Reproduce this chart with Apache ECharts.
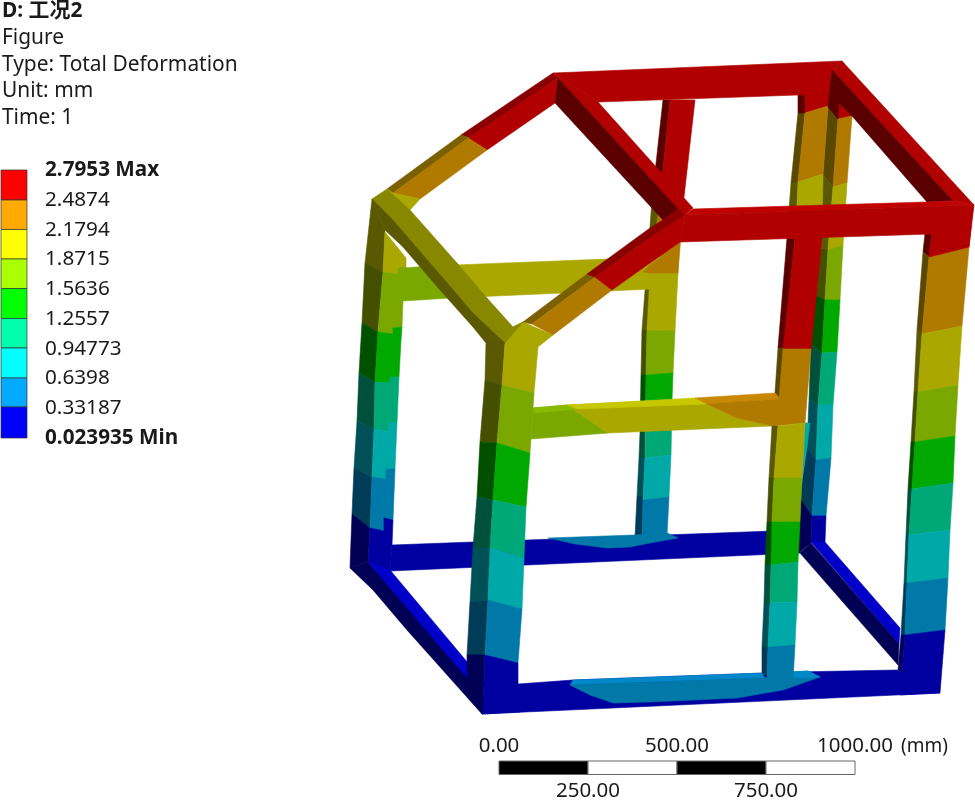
<!DOCTYPE html>
<html>
<head>
<meta charset="utf-8">
<script src="https://cdn.jsdelivr.net/npm/echarts@6/dist/echarts.min.js"></script>
<style>
html, body { margin: 0; padding: 0; background: #fff; }
#chart { width: 975px; height: 801px; }
</style>
</head>
<body>
<div id="chart"></div>
<script>
var chart = echarts.init(document.getElementById('chart'));

const headerLines = ['D: 工况2', 'Figure', 'Type: Total Deformation', 'Unit: mm', 'Time: 1'];
const legendLabels = ['2.7953 Max', '2.4874', '2.1794', '1.8715', '1.5636', '1.2557', '0.94773', '0.6398', '0.33187', '0.023935 Min'];
const legendColors = ['#ff0000', '#ffaa00', '#ffff00', '#aaff00', '#00ff00', '#00ffaa', '#00ffff', '#00aaff', '#0000ff'];
const legendEdges = [170, 200, 229.5, 259, 288.5, 318.5, 348, 378, 407, 438];
const scaleEdges = [0, 250, 500, 750, 1000];

// contour bands, red to blue, one list per face shade
const litFace = ['#b00000', '#b07a00', '#aaa800', '#7aa800', '#00a800', '#00a878', '#00a8a8', '#0078a8', '#0000a0'];
const darkFace = ['#5a0000', '#5a4800', '#5a5800', '#445000', '#005000', '#00503c', '#005058', '#003c58', '#000055'];
const brightFace = ['#c00000', '#c88800', '#c8c800', '#88bb00', '#00c000', '#00c088', '#00c0c0', '#0088c8', '#0000c8'];
const midFace = ['#8a0000', '#7a6000', '#888800', '#5f7800', '#007800', '#007850', '#007878', '#005878', '#000078'];
const shades = [litFace, darkFace, brightFace, midFace];

// each face: band, shade, then x,y pairs
const rearPost = [
	[0,1, 663,100, 670,100, 660,200, 652,200],
	[2,1, 652,200, 660,200, 647,330, 642,330],
	[3,1, 642,330, 647,330, 646,375, 641,375],
	[4,1, 641,375, 646,375, 645,433, 640,433],
	[5,1, 640,433, 645,433, 645,458, 639,458],
	[6,1, 639,458, 645,458, 643,497, 637,497],
	[7,1, 637,497, 643,497, 642,540, 635,537],
	[0,0, 670,100, 695,100, 684,197, 660,200],
	[1,0, 660,200, 684,197, 678,273, 650,273],
	[2,0, 650,273, 678,273, 675,331, 647,331],
	[3,0, 647,331, 675,331, 673,373, 646,375],
	[4,0, 646,375, 673,373, 672,400, 646,400],
	[5,0, 646,400, 672,400, 671,455, 645,458],
	[6,0, 645,458, 671,455, 669,497, 643,500],
	[7,0, 643,500, 669,497, 667,535, 642,540]
];

const rearBeam = [
	[8,0, 392,545, 800,530, 800,553, 390,571],
	[7,0, 548,538, 575,544, 607,548, 630,547, 650,543, 678,538, 667,533, 635,535]
];

const midBeam = [
	[3,0, 403,268, 430,266, 450,298, 403,301],
	[2,0, 430,266, 607,259, 677,256, 675,288, 450,298],
	[1,0, 643,272, 650,265, 678,245, 678,273, 650,273]
];

const cornerColumn = [
	[0,1, 832,70, 840,90, 838,119, 828,107],
	[1,1, 828,107, 838,119, 833,187, 823,175],
	[2,1, 823,175, 833,187, 828,250, 820,248],
	[3,1, 820,248, 828,250, 825,300, 815,295],
	[4,1, 815,295, 825,300, 822,353, 811,345],
	[5,1, 811,345, 822,353, 818,405, 809,400],
	[6,1, 809,400, 818,405, 816,460, 807,447],
	[7,1, 807,447, 816,460, 812,516, 800,498],
	[8,1, 800,498, 812,516, 811,543, 799,553],
	[0,0, 839,103, 853,116, 838,119],
	[1,0, 838,119, 852,116, 847,183, 833,187],
	[2,0, 833,187, 847,183, 843,245, 828,250],
	[3,0, 828,250, 843,245, 840,300, 825,300],
	[4,0, 825,300, 840,300, 837,352, 822,353],
	[5,0, 822,353, 837,352, 833,405, 818,405],
	[6,0, 818,405, 833,405, 831,458, 816,460],
	[7,0, 816,460, 831,458, 826,516, 812,516],
	[8,0, 812,516, 826,516, 825,542, 811,542],
	[6,0, 805,423, 810,423, 807,447, 802,478],
	[8,2, 811,542, 825,542, 900,628, 899,644],
	[8,1, 800,553, 811,543, 899,644, 898,665]
];

const frontBeam = [
	[8,0, 518,684, 573,680, 793,672, 897,670, 940,693, 482,714],
	[7,2, 573,680, 762,673, 765,678, 570,685],
	[7,0, 570,685, 590,695, 613,703, 650,702, 737,698, 783,690, 820,677, 808,671, 793,672, 765,678],
	[7,2, 793,672, 808,671, 820,677, 793,678]
];

const frontMid = [
	[1,1, 798,113, 805,113, 798,183, 791,183],
	[0,1, 798,95, 805,95, 805,113, 798,113],
	[2,1, 791,183, 798,183, 795,238, 787,238],
	[0,0, 805,95, 830,95, 828,106, 805,113],
	[1,0, 805,113, 828,106, 823,174, 798,182],
	[2,0, 798,182, 823,174, 822,237, 796,238],
	[0,1, 787,238, 795,238, 784,348, 778,348],
	[0,0, 795,238, 822,237, 811,350, 783,349],
	[1,1, 778,348, 784,348, 780,399, 775,393],
	[3,0, 533,408, 567,405, 608,433, 531,439],
	[2,0, 567,405, 695,399, 707,404, 737,418, 773,426, 608,433],
	[3,2, 533,408, 567,405, 578,409, 534,413],
	[2,2, 567,405, 695,398, 707,404, 578,409],
	[1,2, 695,398, 775,393, 780,399, 707,404],
	[1,0, 707,404, 779,399, 783,349, 811,349, 805,423, 773,426, 737,418],
	[2,1, 772,426, 778,426, 774,478, 769,478],
	[3,1, 769,478, 774,478, 772,522, 767,522],
	[4,1, 767,522, 772,522, 771,565, 765,565],
	[5,1, 765,565, 771,565, 770,603, 764,603],
	[6,1, 764,603, 770,603, 768,647, 762,647],
	[7,1, 762,647, 768,647, 767,677, 762,673],
	[2,0, 778,426, 805,423, 802,478, 774,478],
	[3,0, 774,478, 802,478, 800,522, 772,522],
	[4,0, 772,522, 800,522, 798,562, 771,565],
	[5,0, 771,565, 798,562, 797,602, 770,603],
	[6,0, 770,603, 797,602, 795,645, 768,647],
	[7,0, 768,647, 795,645, 793,680, 767,680]
];

const leftColumn = [
	[2,1, 372,199, 385,230, 383,272, 365,263],
	[3,1, 365,263, 383,272, 378,332, 362,323],
	[4,1, 362,323, 378,332, 375,382, 359,373],
	[5,1, 359,373, 375,382, 374,429, 357,421],
	[6,1, 357,421, 374,429, 372,477, 354,468],
	[7,1, 354,468, 372,477, 370,528, 352,514],
	[8,1, 352,514, 370,528, 368,562, 350,568],
	[2,0, 385,232, 406,258, 406,268, 398,268, 398,274, 383,272],
	[3,0, 383,272, 398,274, 398,268, 406,267, 403,300, 402,327, 393,328, 393,334, 378,332],
	[4,0, 378,332, 393,334, 393,328, 402,327, 401,340, 399,377, 390,377, 390,383, 375,382],
	[5,0, 375,382, 390,383, 390,377, 399,377, 397,423, 388,423, 388,432, 374,429],
	[6,0, 374,429, 388,432, 388,423, 397,423, 395,469, 386,469, 386,479, 372,477],
	[7,0, 372,477, 386,479, 386,469, 395,469, 393,520, 384,518, 384,531, 370,528],
	[8,0, 370,528, 384,531, 384,518, 393,520, 392,545, 390,571, 368,562],
	[8,1, 350,568, 373,590, 407,630, 482,714, 486,700, 468,670, 368,562],
	[8,2, 368,562, 390,570, 468,663, 467,678]
];

const centreColumn = [
	[2,1, 486,343, 505,343, 502,385, 485,380],
	[3,1, 485,380, 502,385, 497,443, 480,442],
	[4,1, 480,442, 497,443, 493,500, 477,497],
	[5,1, 477,497, 493,500, 490,548, 473,548],
	[6,1, 473,548, 490,548, 488,600, 470,602],
	[7,1, 470,602, 488,600, 485,655, 467,655],
	[8,1, 467,655, 485,655, 483,714, 482,714, 467,678],
	[2,0, 505,343, 513,327, 523,322, 553,335, 538,347, 534,393, 502,385],
	[3,0, 502,385, 534,393, 530,453, 497,443],
	[4,0, 497,443, 530,453, 526,507, 493,500],
	[5,0, 493,500, 526,507, 524,558, 490,548],
	[6,0, 490,548, 524,558, 522,609, 488,600],
	[7,0, 488,600, 522,609, 518,663, 485,655],
	[8,0, 485,655, 518,663, 518,684, 520,712, 483,714]
];

const rightColumn = [
	[0,1, 925,234, 932,234, 929,257, 923,252],
	[1,1, 923,252, 929,257, 922,334, 917,330],
	[2,1, 917,330, 922,334, 918,392, 914,392],
	[3,1, 914,392, 918,392, 915,442, 911,442],
	[4,1, 911,442, 915,442, 912,489, 908,489],
	[5,1, 908,489, 912,489, 909,535, 906,535],
	[6,1, 906,535, 909,535, 907,583, 904,583],
	[7,1, 904,583, 907,583, 905,635, 901,635],
	[8,1, 901,635, 905,635, 902,673, 898,670],
	[0,0, 932,234, 973,206, 969,247, 929,257],
	[1,0, 929,257, 969,247, 962,326, 922,334],
	[2,0, 922,334, 962,326, 958,385, 918,392],
	[3,0, 918,392, 958,385, 955,436, 915,442],
	[4,0, 915,442, 955,436, 953,483, 912,489],
	[5,0, 912,489, 953,483, 950,530, 909,535],
	[6,0, 909,535, 950,530, 948,578, 907,583],
	[7,0, 907,583, 948,578, 945,630, 905,635],
	[8,0, 905,635, 945,630, 940,693, 900,695]
];

const roof = [
	[0,0, 553,73, 842,61, 832,70, 830,95, 798,95, 598,102],
	[0,0, 842,61, 974,205, 953,201, 832,70],
	[0,1, 832,70, 953,201, 927,202, 852,116, 839,103, 838,119, 828,107],
	[0,3, 553,73, 558,78, 470,138, 461,135],
	[0,0, 558,78, 555,103, 487,150, 468,138],
	[1,3, 461,135, 470,138, 393,193, 387,189],
	[1,0, 468,138, 487,150, 420,199, 393,193],
	[2,0, 387,189, 393,193, 420,199, 410,210],
	[0,0, 553,73, 598,102, 693,208, 685,215, 678,209, 558,78],
	[0,1, 558,78, 678,209, 663,220, 555,103],
	[1,3, 523,322, 532,324, 595,277, 587,274],
	[1,0, 532,324, 553,335, 612,290, 595,277],
	[0,3, 587,274, 595,277, 650,238, 685,215, 678,209, 663,220, 650,228],
	[0,0, 595,277, 612,290, 650,263, 680,242, 685,215, 650,238],
	[0,2, 693,209, 927,202, 952,201, 974,205, 685,215],
	[0,0, 685,215, 974,205, 969,247, 929,257, 932,234, 680,242],
	[2,3, 372,199, 387,189, 410,210, 457,263, 487,298, 513,327, 523,322, 505,343, 473,313, 430,263, 393,220],
	[2,1, 372,199, 393,220, 430,263, 473,313, 505,343, 486,343, 473,327, 440,290, 403,247, 385,230]
];

// back to front
const faces = [].concat(rearPost, rearBeam, midBeam, cornerColumn, frontBeam, frontMid, leftColumn, centreColumn, rightColumn, roof);

const fontName = '"Noto Sans", "Noto Sans CJK SC", sans-serif';

var textItems = [];
headerLines.forEach(function (line, idx) {
	textItems.push([2, 11.5 + idx * 26.6, line, idx === 0, 20.9]);
});
legendLabels.forEach(function (label, idx) {
	textItems.push([45, 170.5 + idx * 29.7, label, idx === 0 || idx === legendLabels.length - 1, 20.7]);
});
textItems.push([901, 747, '(mm)', false, 19]);

var option = {
	animation: false,
	backgroundColor: '#ffffff',
	grid: [
		{ left: 0, top: 0, width: 975, height: 801 },
		{ left: 499, top: 761, width: 356, height: 16 }
	],
	xAxis: [
		{ type: 'value', gridIndex: 0, min: 0, max: 975, show: false },
		{
			type: 'value', gridIndex: 1, min: 0, max: 1000, interval: 500, position: 'top',
			axisLine: { show: false }, axisTick: { show: false }, splitLine: { show: false },
			axisLabel: {
				margin: 5, fontSize: 20.5, color: '#1a1a1a', fontFamily: fontName, hideOverlap: false,
				formatter: function (v) { return v.toFixed(2); }
			}
		},
		{
			type: 'value', gridIndex: 1, min: 0, max: 1000, interval: 250, position: 'bottom',
			axisLine: { show: false }, axisTick: { show: false }, splitLine: { show: false },
			axisLabel: {
				margin: 6, fontSize: 20.5, color: '#1a1a1a', fontFamily: fontName,
				formatter: function (v) { return v % 500 === 0 ? '' : v.toFixed(2); }
			}
		}
	],
	yAxis: [
		{ type: 'value', gridIndex: 0, min: 0, max: 801, inverse: true, show: false },
		{ type: 'value', gridIndex: 1, min: 0, max: 1, show: false }
	],
	series: [
		{
			type: 'custom',
			coordinateSystem: 'cartesian2d',
			xAxisIndex: 0, yAxisIndex: 0,
			clip: false,
			silent: true,
			data: faces.map(function (f) { return [f[2], f[3]]; }),
			renderItem: function (params, api) {
				var f = faces[params.dataIndex];
				var points = [];
				for (var i = 2; i < f.length; i += 2) {
					points.push(api.coord([f[i], f[i + 1]]));
				}
				var fill = shades[f[1]][f[0]];
				return { type: 'polygon', shape: { points: points }, style: { fill: fill, stroke: fill, lineWidth: 0.6 } };
			}
		},
		{
			type: 'custom',
			coordinateSystem: 'cartesian2d',
			xAxisIndex: 0, yAxisIndex: 0,
			silent: true,
			data: legendColors.map(function (c, idx) { return [1, legendEdges[idx]]; }),
			renderItem: function (params, api) {
				var idx = params.dataIndex;
				var a = api.coord([1, legendEdges[idx]]);
				var b = api.coord([27, legendEdges[idx + 1]]);
				return {
					type: 'rect',
					shape: { x: a[0], y: a[1], width: b[0] - a[0], height: b[1] - a[1] },
					style: { fill: legendColors[idx], stroke: '#333333', lineWidth: 0.7 }
				};
			}
		},
		{
			type: 'custom',
			coordinateSystem: 'cartesian2d',
			xAxisIndex: 0, yAxisIndex: 0,
			silent: true,
			data: textItems.map(function (t) { return [t[0], t[1]]; }),
			renderItem: function (params, api) {
				var t = textItems[params.dataIndex];
				var p = api.coord([t[0], t[1]]);
				return {
					type: 'text',
					x: p[0], y: p[1],
					style: {
						text: t[2], fill: '#1a1a1a',
						font: (t[3] ? 'bold ' : '') + t[4] + 'px ' + fontName,
						textAlign: 'left', textVerticalAlign: 'middle'
					}
				};
			}
		},
		{
			// scale bar, drawn on its own mm axis
			type: 'custom',
			coordinateSystem: 'cartesian2d',
			xAxisIndex: 1, yAxisIndex: 1,
			silent: true,
			data: scaleEdges.slice(0, -1).map(function (e) { return [e, 0]; }),
			renderItem: function (params, api) {
				var idx = params.dataIndex;
				var a = api.coord([scaleEdges[idx], 1]);
				var b = api.coord([scaleEdges[idx + 1], 0]);
				return {
					type: 'rect',
					shape: { x: a[0], y: a[1], width: b[0] - a[0], height: b[1] - a[1] },
					style: { fill: idx % 2 === 0 ? '#000000' : '#ffffff', stroke: '#666666', lineWidth: 1 }
				};
			}
		}
	]
};

chart.setOption(option);
</script>
</body>
</html>
